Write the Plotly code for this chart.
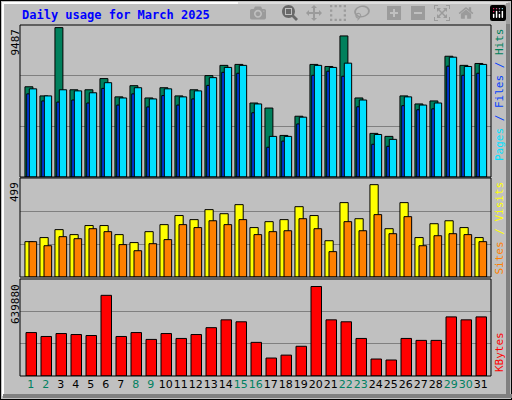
import plotly.graph_objects as go

days = list(range(1, 32))
day_labels = [str(d) for d in days]
weekend = [1, 2, 8, 9, 15, 16, 22, 23, 29, 30]

hits = [5730, 5150, 9487, 5540, 5540, 6250, 5090, 5800, 5020, 5670, 5150, 5540, 6440, 7090, 7150, 4700, 4380, 2640, 3860, 7150, 7020, 8960, 5020, 2770, 2580, 5150, 4640, 4830, 7670, 7090, 7210]
files = [5600, 5150, 5540, 5470, 5350, 5990, 5020, 5670, 4960, 5600, 5090, 5470, 6310, 6960, 7090, 4640, 2580, 2580, 3800, 7090, 6960, 7230, 4890, 2700, 2390, 5090, 4570, 4700, 7610, 7020, 7150]
pages = [5280, 4830, 4760, 4890, 4700, 5630, 4570, 5280, 4450, 5170, 4570, 4960, 5820, 6650, 6590, 4080, 1890, 2280, 3370, 6460, 6720, 6400, 4460, 2080, 1950, 4530, 4270, 4330, 7040, 6460, 6590]
visits = [191, 213, 256, 229, 278, 278, 229, 186, 245, 283, 332, 310, 364, 342, 391, 267, 299, 310, 380, 332, 196, 402, 315, 499, 261, 402, 213, 288, 304, 267, 213]
sites = [191, 169, 218, 207, 261, 245, 175, 142, 180, 202, 283, 267, 304, 283, 310, 229, 245, 250, 315, 261, 137, 299, 250, 337, 234, 326, 169, 223, 234, 229, 191]
kbytes = [310600, 282600, 303600, 296600, 289600, 576800, 282600, 310600, 261600, 303600, 268600, 296600, 345600, 401600, 387600, 240500, 128400, 149400, 212500, 639880, 401600, 387600, 268600, 121400, 114400, 268600, 254600, 254600, 422600, 401600, 422600]

top_max, mid_max, bot_max = 9654, 535, 693600

fig = go.Figure()
def bar(y, color, off, w, ax):
    fig.add_trace(go.Bar(x=days, y=y, offset=off, width=w, marker=dict(color=color, line=dict(color="black", width=1)),
                         xaxis=ax[0], yaxis=ax[1], showlegend=False, hoverinfo="skip"))

bar(hits, "#00805c", -0.39, 0.53, ("x", "y"))
bar(pages, "#0040ff", -0.27, 0.19, ("x", "y"))
bar(files, "#00e0ff", -0.1, 0.49, ("x", "y"))
bar(visits, "#ffff00", -0.39, 0.55, ("x2", "y2"))
bar(sites, "#ff8000", -0.12, 0.51, ("x2", "y2"))
bar(kbytes, "#ff0000", -0.32, 0.7, ("x3", "y3"))

xr = [0.28, 31.68]
xdom = [20/512, 491/512]
xcommon = dict(range=xr, domain=xdom, showgrid=False, zeroline=False, fixedrange=True)
ycommon = dict(showgrid=True, gridcolor="#808080", gridwidth=1, zeroline=False, showticklabels=False, ticks="")

ticktext = [f'<span style="color:{"#008060" if d in weekend else "black"}">{d}</span>' for d in day_labels and days]

fig.update_layout(
    width=512, height=400, margin=dict(l=0, r=0, t=0, b=0),
    paper_bgcolor="#c0c0c0", plot_bgcolor="#c0c0c0", barmode="overlay",
    xaxis=dict(**xcommon, anchor="y", showticklabels=False),
    xaxis2=dict(**xcommon, anchor="y2", showticklabels=False),
    xaxis3=dict(**xcommon, anchor="y3", tickvals=days, ticktext=ticktext, ticks="", tickangle=0,
                tickfont=dict(family="DejaVu Sans", size=11)),
    yaxis=dict(**ycommon, domain=[1-177/400, 1-25/400], range=[0, top_max], tickvals=[top_max/3, 2*top_max/3]),
    yaxis2=dict(**ycommon, domain=[1-277/400, 1-178/400], range=[0, mid_max], tickvals=[mid_max/3, 2*mid_max/3]),
    yaxis3=dict(**ycommon, domain=[1-376/400, 1-279/400], range=[0, bot_max], tickvals=[bot_max/3, 2*bot_max/3]),
    font=dict(family="DejaVu Sans Mono"),
)

shapes = []
for y0, y1 in [(25, 177), (178, 277), (279, 376)]:
    shapes.append(dict(type="rect", xref="paper", yref="paper", x0=xdom[0], x1=xdom[1], y0=1-y1/400, y1=1-y0/400, line=dict(color="black", width=1)))
shapes.append(dict(type="rect", xref="paper", yref="paper", x0=0, x1=1, y0=0, y1=1, line=dict(color="black", width=2)))
shapes.append(dict(type="line", xref="paper", yref="paper", x0=2/512, x1=508/512, y0=1-3/400, y1=1-3/400, line=dict(color="white", width=2)))
shapes.append(dict(type="line", xref="paper", yref="paper", x0=3/512, x1=3/512, y0=4/400, y1=1-3/400, line=dict(color="white", width=2)))
shapes.append(dict(type="line", xref="paper", yref="paper", x0=508/512, x1=508/512, y0=3/400, y1=1-3/400, line=dict(color="#808080", width=4)))
shapes.append(dict(type="line", xref="paper", yref="paper", x0=3/512, x1=1, y0=4/400, y1=4/400, line=dict(color="#808080", width=4)))
fig.update_layout(shapes=shapes)

ann = [
    dict(text="<b>Daily usage for March 2025</b>", x=20/512, y=1-15/400, xanchor="left", yanchor="middle",
         font=dict(color="#0000ff", size=12, family="DejaVu Sans Mono")),
    dict(text="9487", x=15/512, y=1-27/400, textangle=-90, xanchor="center", yanchor="top", font=dict(size=11, color="black")),
    dict(text="499", x=15/512, y=1-180/400, textangle=-90, xanchor="center", yanchor="top", font=dict(size=11, color="black")),
    dict(text="639880", x=15/512, y=1-282/400, textangle=-90, xanchor="center", yanchor="top", font=dict(size=11, color="black")),
    dict(text='<span style="color:#00e0ff">Pages</span><span style="color:#0040ff"> / Files / </span><span style="color:#00805c">Hits</span>',
         x=499/512, y=1-27/400, textangle=-90, xanchor="center", yanchor="top", font=dict(size=11)),
    dict(text='<span style="color:#ff8000">Sites</span><span style="color:#ffff00"> / Visits</span>',
         x=499/512, y=1-180/400, textangle=-90, xanchor="center", yanchor="top", font=dict(size=11)),
    dict(text='<span style="color:#ff0000">KBytes</span>',
         x=499/512, y=1-374/400, textangle=-90, xanchor="center", yanchor="bottom", font=dict(size=11)),
]
for a in ann:
    a.update(xref="paper", yref="paper", showarrow=False)
fig.update_layout(annotations=ann)

fig.write_html("out.html", post_script="document.body.style.margin='0';document.body.style.overflow='hidden';")
